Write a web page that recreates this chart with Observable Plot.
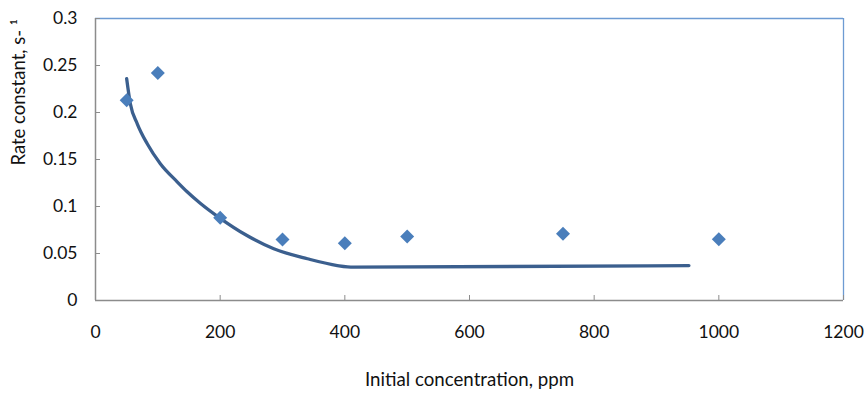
<!DOCTYPE html>
<html>
<head>
<meta charset="utf-8">
<script src="https://cdn.jsdelivr.net/npm/d3@7"></script>
<script src="https://cdn.jsdelivr.net/npm/@observablehq/plot@0.6"></script>
<style>
  html, body { margin: 0; padding: 0; background: #fff; }
  #chart svg { display: block; }
</style>
</head>
<body>
<div id="chart"></div>
<script>
// Measured data points (diamonds)
const concentration = [50, 100, 200, 300, 400, 500, 750, 1000];
const rateConstant = [0.213, 0.242, 0.088, 0.065, 0.061, 0.068, 0.071, 0.0652];

// Fitted curve
const fitConcentration = [50, 56, 67, 83, 104, 131, 147, 168, 199, 243, 286, 340, 388, 414, 952];
const fitRate = [0.236, 0.209, 0.188, 0.1667, 0.1455, 0.1263, 0.1157, 0.1035, 0.088, 0.0691, 0.055, 0.0444, 0.0372, 0.0354, 0.0372];

// Axes
const xTicks = [0, 200, 400, 600, 800, 1000, 1200];
const xTickLabels = ["0", "200", "400", "600", "800", "1000", "1200"];
const yTicks = [0, 0.05, 0.1, 0.15, 0.2, 0.25, 0.3];
const yTickLabels = ["0", "0.05", "0.1", "0.15", "0.2", "0.25", "0.3"];
const xDomain = [0, 1200];
const yDomain = [0, 0.3];
const xTitle = "Initial concentration, ppm";
const yTitle = "Rate constant, s- \u00B9";

const points = concentration.map((c, i) => ({x: c, y: rateConstant[i]}));
const fit = fitConcentration.map((c, i) => ({x: c, y: fitRate[i]}));

const axisGray = "#8c8c8c";
const borderBlue = "#6d9bd3";

const chart = Plot.plot({
  width: 867,
  height: 398,
  marginLeft: 95,
  marginRight: 24,
  marginTop: 18,
  marginBottom: 98,
  style: {fontFamily: "Lato, sans-serif", fontSize: "17px", color: "#111", background: "#fff"},
  x: {domain: xDomain},
  y: {domain: yDomain},
  marks: [
    Plot.ruleY([yDomain[1]], {stroke: borderBlue, strokeWidth: 1.3}),
    Plot.ruleX([xDomain[1]], {stroke: borderBlue, strokeWidth: 1.3}),
    Plot.ruleY([yDomain[0]], {stroke: axisGray, strokeWidth: 1.5}),
    Plot.ruleX([xDomain[0]], {stroke: axisGray, strokeWidth: 1.5}),
    Plot.axisX({ticks: xTicks, tickFormat: (d) => xTickLabels[xTicks.indexOf(d)], tickSize: -5, tickPadding: 30, label: null, stroke: axisGray, fontSize: 17.5}),
    Plot.axisY({ticks: yTicks, tickFormat: (d) => yTickLabels[yTicks.indexOf(d)], tickSize: -5, tickPadding: 23, label: null, stroke: axisGray, fontSize: 17.5}),
    Plot.line(fit, {x: "x", y: "y", stroke: "#3b5f8e", strokeWidth: 3.3, curve: "monotone-x"}),
    Plot.dot(points, {x: "x", y: "y", symbol: "diamond2", r: 6.3, fill: "#4a7ebb", stroke: "none"}),
    Plot.text([xTitle], {frameAnchor: "bottom", dy: 85, fontSize: 18.7, fill: "#111"}),
    Plot.text([yTitle], {frameAnchor: "left", rotate: -90, dx: -76, dy: 6, fontSize: 18.5, fill: "#111"})
  ]
});
document.getElementById("chart").appendChild(chart);
</script>
</body>
</html>
